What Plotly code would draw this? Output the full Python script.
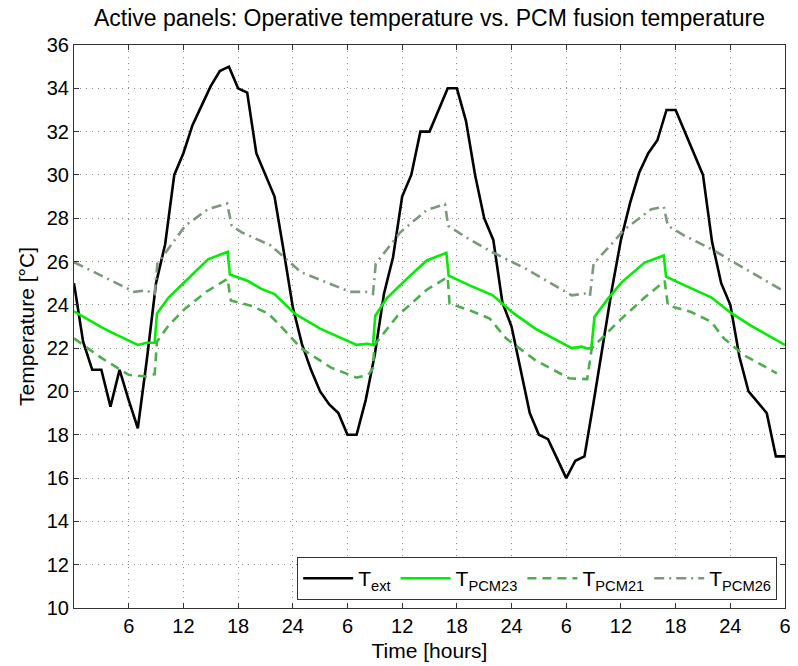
import plotly.graph_objects as go

# ---------------- data ----------------
hours_ext = list(range(0, 79))
t_ext = [25.0, 22.3, 21.0, 21.0, 19.3, 21.0, 19.6, 18.3, 21.5, 25.0,
         26.8, 30.0, 31.0, 32.3, 33.2, 34.1, 34.8, 35.0, 34.0, 33.8,
         31.0, 30.0, 29.0, 26.5, 23.9, 22.2, 21.0, 20.0, 19.4, 19.0,
         18.0, 18.0, 19.6, 21.7, 24.5, 26.2, 29.0, 30.0, 32.0, 32.0,
         33.0, 34.0, 34.0, 32.5, 30.0, 28.0, 27.0, 24.1, 23.0, 21.0,
         19.0, 18.0, 17.8, 16.9, 16.0, 16.8, 17.0, 19.5, 22.1, 24.7,
         27.0, 28.7, 30.1, 31.0, 31.6, 33.0, 33.0, 32.0, 31.0, 30.0,
         26.9, 25.0, 24.0, 21.6, 20.0, 19.5, 19.0, 17.0, 17.0]

hours_pcm23 = [0, 1, 2, 3, 4, 5, 6, 7, 8, 8.85, 9.1, 10.4, 12, 14.7, 16.85, 17.1,
               19.1, 20.5, 22, 24.2, 27, 31, 32.2, 32.8, 33.05, 34.3, 36.5, 38.7,
               40.85, 41.1, 43.4, 45.9, 48.1, 50.6, 54.6, 55.7, 56.3, 56.75, 57.1,
               58.6, 60.1, 62.6, 64.7, 64.95, 67, 69.9, 72, 74.2, 78]
t_pcm23 = [23.7, 23.45, 23.2, 22.97, 22.75, 22.55, 22.35, 22.15, 22.25, 22.25, 23.6,
           24.35, 25.0, 26.1, 26.45, 25.4, 25.1, 24.75, 24.5, 23.6, 22.9, 22.15,
           22.2, 22.15, 23.5, 24.3, 25.2, 26.05, 26.4, 25.35, 24.9, 24.45, 23.65,
           22.9, 22.0, 22.07, 21.99, 21.99, 23.45, 24.3, 25.05, 25.95, 26.28, 25.3,
           24.9, 24.35, 23.65, 23.05, 22.15]

hours_pcm21 = [0, 3, 6, 7.9, 8.85, 9.1, 10.4, 12.2, 14.5, 16.85, 17.2, 19.5, 21.3,
               22.5, 24.9, 28.2, 31.0, 32.3, 32.8, 32.95, 35.5, 38.7, 41.0, 41.2,
               43.4, 45.6, 47.4, 50.6, 54.3, 56.3, 56.8, 59.7, 62.5, 64.8, 65.15,
               67.7, 69.9, 71.3, 73.5, 77.1]
t_pcm21 = [22.45, 21.55, 20.77, 20.69, 20.8, 22.3, 23.06, 23.83, 24.6, 25.2, 24.2,
           23.95, 23.6, 23.1, 22.0, 21.1, 20.64, 20.77, 21.07, 22.14, 23.5, 24.7,
           25.28, 24.06, 23.75, 23.37, 22.45, 21.45, 20.61, 20.57, 21.99, 23.22,
           24.3, 25.1, 23.98, 23.67, 23.22, 22.45, 21.68, 20.84]

hours_pcm26 = [0, 6.6, 7.9, 8.85, 9.15, 12.2, 14.7, 16.8, 17.3, 18.4, 21.6, 24.9,
               30.3, 32.0, 32.8, 33.1, 35.8, 38.7, 40.7, 41.05, 43.0, 45.9, 49.6,
               54.6, 56.0, 56.6, 57.0, 60.45, 63.35, 64.7, 65.15, 67.0, 69.9, 78]
t_pcm26 = [25.97, 24.6, 24.67, 24.5, 25.9, 27.65, 28.42, 28.68, 27.65, 27.35, 26.74,
           25.51, 24.6, 24.6, 24.5, 25.9, 27.35, 28.38, 28.65, 27.65, 27.12, 26.43,
           25.66, 24.44, 24.52, 24.4, 25.9, 27.5, 28.42, 28.53, 27.65, 27.19, 26.58,
           24.6]

x_tickvals = [6, 12, 18, 24, 30, 36, 42, 48, 54, 60, 66, 72, 78]
x_ticktext = ["6", "12", "18", "24", "6", "12", "18", "24", "6", "12", "18", "24", "6"]
y_tickvals = list(range(10, 37, 2))

FONT = "Liberation Sans, Arial, sans-serif"

# ---------------- figure ----------------
fig = go.Figure()
fig.add_trace(go.Scatter(x=hours_ext, y=t_ext, mode="lines", name="T<sub>ext</sub>",
                         line=dict(color="black", width=2.6)))
fig.add_trace(go.Scatter(x=hours_pcm23, y=t_pcm23, mode="lines", name="T<sub>PCM23</sub>",
                         line=dict(color="#00ee00", width=2.6)))
fig.add_trace(go.Scatter(x=hours_pcm21, y=t_pcm21, mode="lines", name="T<sub>PCM21</sub>",
                         line=dict(color="#4dae4d", width=2.6, dash="9px,6px")))
fig.add_trace(go.Scatter(x=hours_pcm26, y=t_pcm26, mode="lines", name="T<sub>PCM26</sub>",
                         line=dict(color="#7d987d", width=2.6, dash="10px,5px,2px,5px")))

axis_common = dict(
    showline=True, linecolor="#333333", linewidth=1, mirror="ticks",
    ticks="inside", ticklen=5, tickcolor="#333333",
    showgrid=True, gridcolor="rgba(0,0,0,0.45)", griddash="1px,5px", gridwidth=1,
    zeroline=False,
    tickfont=dict(family=FONT, size=20, color="black"),
)

fig.update_xaxes(range=[0, 78], tickvals=x_tickvals, ticktext=x_ticktext,
                 title=dict(text="Time [hours]", standoff=7,
                            font=dict(family=FONT, size=21, color="black")),
                 **axis_common)
fig.update_yaxes(range=[10, 36], tickvals=y_tickvals,
                 title=dict(text="Temperature [°C]", standoff=6,
                            font=dict(family=FONT, size=21, color="black")),
                 **axis_common)

fig.update_layout(
    width=798, height=666,
    margin=dict(l=74, r=7, t=45, b=55),
    plot_bgcolor="white", paper_bgcolor="white",
    font=dict(family=FONT, size=18, color="black"),
    title=dict(text="Active panels: Operative temperature vs. PCM fusion temperature",
               xref="paper", x=0.5, xanchor="center",
               yref="container", y=0.973, yanchor="middle",
               font=dict(family=FONT, size=23, color="black")),
    legend=dict(orientation="h", x=0.989, xanchor="right", y=0.014, yanchor="bottom",
                bgcolor="white", bordercolor="#333333", borderwidth=1,
                font=dict(family=FONT, size=21, color="black"),
                tracegroupgap=0, itemwidth=50),
    showlegend=True,
)

fig.write_html("out.html", config={"displayModeBar": False},
               post_script="document.body.style.margin='0px';")
